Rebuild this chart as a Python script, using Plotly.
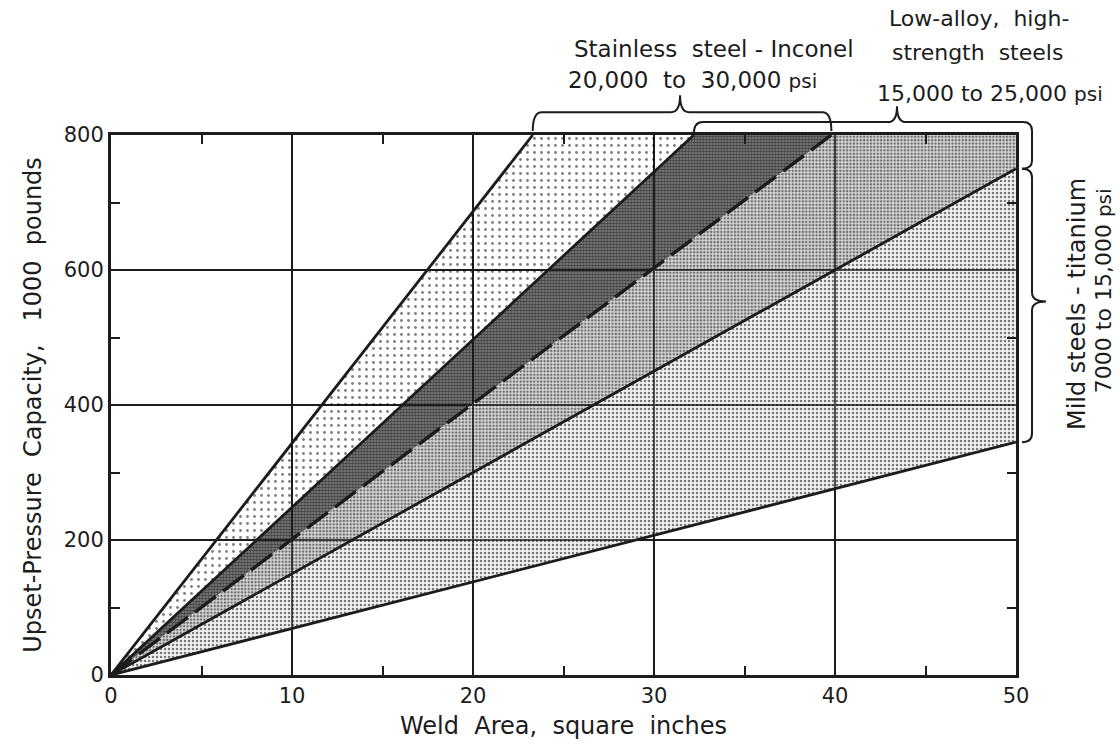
import plotly.graph_objects as go

# Axis extents and tick values
x_range = [0, 50]
y_range = [0, 800]
x_major = [0, 10, 20, 30, 40, 50]
y_major = [0, 200, 400, 600, 800]

# Boundary rays from the origin: where each one meets the chart frame
# (weld area in sq in, upset-pressure capacity in 1000 lb)
ray_names = ["stainless_hi", "lowalloy_hi", "stainless_lo", "mild_hi", "mild_lo"]
ray_x_end = [23.3, 32.2, 39.8, 50.0, 50.0]
ray_y_end = [800, 800, 800, 750, 345]
ray_dash = ["solid", "solid", "dash", "solid", "solid"]

# Shaded bands: (upper ray, lower ray) and their stipple
bands = [
    ("stainless_hi", "lowalloy_hi", dict(shape=".", size=7, solidity=0.13,
                                         fgcolor="#000", bgcolor="rgba(255,255,255,0)")),
    ("lowalloy_hi", "stainless_lo", dict(shape=".", size=3, solidity=0.6,
                                         fgcolor="#000", bgcolor="rgba(50,50,50,0.6)")),
    ("stainless_lo", "mild_hi", dict(shape=".", size=3.4, solidity=0.45,
                                     fgcolor="#000", bgcolor="rgba(150,150,150,0.35)")),
    ("mild_hi", "mild_lo", dict(shape=".", size=4, solidity=0.3,
                                fgcolor="#000", bgcolor="rgba(210,210,210,0.3)")),
]

INK = "#1c1c1c"
FONT = "DejaVu Sans"

end_of = {n: (x, y) for n, x, y in zip(ray_names, ray_x_end, ray_y_end)}

fig = go.Figure()

for upper, lower, pat in bands:
    ux, uy = end_of[upper]
    lx, ly = end_of[lower]
    xs, ys = [0, ux], [0, uy]
    # wrap round the top-right corner when the band spans it
    if uy == y_range[1] and lx == x_range[1] and ux < x_range[1]:
        xs.append(x_range[1])
        ys.append(y_range[1])
    xs += [lx, 0]
    ys += [ly, 0]
    fig.add_trace(go.Scatter(x=xs, y=ys, mode="none", fill="toself",
                             fillcolor="rgba(0,0,0,0)", fillpattern=pat,
                             hoverinfo="skip", showlegend=False))

for name, xe, ye, dash in zip(ray_names, ray_x_end, ray_y_end, ray_dash):
    fig.add_trace(go.Scatter(
        x=[0, xe], y=[0, ye], mode="lines",
        line=dict(color=INK, width=3.4 if dash == "dash" else 2.8,
                  dash="26px,9px" if dash == "dash" else "solid"),
        hoverinfo="skip", showlegend=False))

# ---- layout geometry (pixels) ----
W, H = 1120, 747
ML, MR, MT, MB = 111, 104, 135, 69
PW, PH = W - ML - MR, H - MT - MB


def px(xv):
    return ML + (xv - x_range[0]) / (x_range[1] - x_range[0]) * PW


def py(yv):
    return MT + PH - (yv - y_range[0]) / (y_range[1] - y_range[0]) * PH


def to_paper(p):
    return ((p[0] - ML) / PW, (MT + PH - p[1]) / PH)


def path_from(points_cmds):
    out = []
    for cmd, pts in points_cmds:
        coords = " ".join("%.5f,%.5f" % to_paper(p) for p in pts)
        out.append(cmd + coords)
    return " ".join(out)


brace_line = dict(color=INK, width=2)

# Stainless steel-Inconel brace along the top
x0, x1 = px(end_of["stainless_hi"][0]), px(end_of["stainless_lo"][0])
xm = (x0 + x1) / 2 - 2
yh, ye, yt, r = 112, 131, 95, 9
sp = path_from([
    ("M", [(x0, ye)]), ("Q", [(x0, yh), (x0 + r, yh)]), ("L", [(xm - r, yh)]),
    ("Q", [(xm, yh), (xm, yt)]), ("Q", [(xm, yh), (xm + r, yh)]),
    ("L", [(x1 - r, yh)]), ("Q", [(x1, yh), (x1, ye)]),
])
fig.add_shape(type="path", path=sp, xref="paper", yref="paper", line=brace_line)

# Low-alloy brace: along the top, then down the right edge to the 15,000 psi ray
a0 = px(end_of["lowalloy_hi"][0])
xr = px(x_range[1]) + 16
ym = py(end_of["mild_hi"][1])
tip_x = 897
yh2, r2 = 122, 9
lp = path_from([
    ("M", [(a0, 134)]), ("Q", [(a0, yh2), (a0 + r2, yh2)]), ("L", [(tip_x - r2, yh2)]),
    ("Q", [(tip_x, yh2), (tip_x, 106)]), ("Q", [(tip_x, yh2), (tip_x + r2, yh2)]),
    ("L", [(xr - r2, yh2)]), ("Q", [(xr, yh2), (xr, yh2 + r2)]),
    ("L", [(xr, ym - 8)]), ("Q", [(xr, ym), (xr - 10, ym)]),
])
fig.add_shape(type="path", path=lp, xref="paper", yref="paper", line=brace_line)

# Mild steels brace on the right side
yb = py(end_of["mild_lo"][1])
ymid = (ym + yb) / 2 - 4
mp = path_from([
    ("M", [(xr - 10, ym)]), ("Q", [(xr, ym), (xr, ym + 9)]), ("L", [(xr, ymid - 9)]),
    ("Q", [(xr, ymid), (xr + 14, ymid)]), ("Q", [(xr, ymid), (xr, ymid + 9)]),
    ("L", [(xr, yb - 9)]), ("Q", [(xr, yb), (xr - 10, yb)]),
])
fig.add_shape(type="path", path=mp, xref="paper", yref="paper", line=brace_line)


def note(text, cx, cy, size=19, angle=0):
    xp, yp = to_paper((cx, cy))
    fig.add_annotation(text=text, x=xp, y=yp, xref="paper", yref="paper",
                       showarrow=False, textangle=angle, xanchor="center", yanchor="middle",
                       font=dict(family=FONT, size=size, color=INK))


note("Stainless  steel - Inconel", 714, 49, 23)
note("20,000  to  30,000 <span style='font-size:20px'>psi</span>", 692, 80, 23)
note("Low-alloy,  high-", 979, 18, 22)
note("strength  steels", 977, 52, 22)
note("15,000 to 25,000 <span style='font-size:20px'>psi</span>", 990, 93, 22)
note("Mild steels - titanium", 1077, 305, 24, -90)
note("7000 to 15,000 <span style='font-size:20px'>psi</span>", 1103, 292, 22, -90)

axis_common = dict(
    showgrid=True, gridcolor=INK, gridwidth=2,
    showline=True, linecolor=INK, linewidth=3, mirror="ticks",
    ticks="", zeroline=False,
    tickfont=dict(family=FONT, size=21, color=INK),
    title_font=dict(family=FONT, size=24, color=INK),
)

fig.update_xaxes(
    range=x_range, tickvals=x_major,
    title_text="Weld  Area,  square  inches", title_standoff=10,
    minor=dict(ticks="inside", ticklen=9, tickwidth=2, tickcolor=INK,
               tick0=5, dtick=10, showgrid=False),
    **axis_common)
fig.update_yaxes(
    range=y_range, tickvals=y_major,
    title_text="Upset-Pressure  Capacity,   1000  pounds", title_standoff=16,
    minor=dict(ticks="inside", ticklen=9, tickwidth=2, tickcolor=INK,
               tick0=100, dtick=200, showgrid=False),
    **axis_common)

fig.update_layout(
    width=W, height=H,
    margin=dict(l=ML, r=MR, t=MT, b=MB),
    paper_bgcolor="white", plot_bgcolor="white",
    showlegend=False,
    font=dict(family=FONT, color=INK),
)

fig.write_html("out.html")
